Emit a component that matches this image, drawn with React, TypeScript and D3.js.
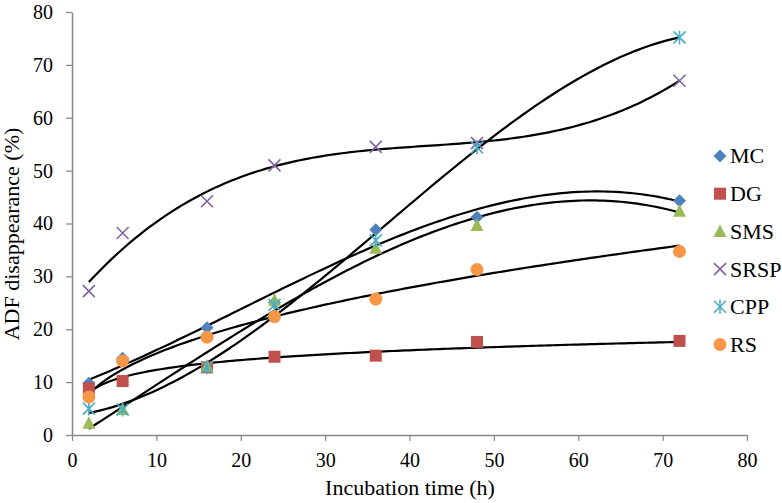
import * as d3 from 'd3';
import { useEffect, useRef } from 'react';

// incubation times (h)
const hours = [2, 6, 16, 24, 36, 48, 72];

// ADF disappearance (%) per substrate
const mc = [9.8, 14.5, 20.3, 25.0, 38.8, 41.2, 44.3];
const dg = [8.8, 10.2, 12.8, 14.8, 15.0, 17.6, 17.8];
const sms = [2.2, 4.8, 13.0, 25.5, 35.3, 39.6, 42.3];
const srsp = [27.2, 38.2, 44.2, 51.0, 54.5, 55.2, 67.0];
const cpp = [5.0, 4.8, 12.8, 24.6, 36.8, 54.4, 75.2];
const rs = [7.2, 14.0, 18.5, 22.4, 25.7, 31.3, 34.7];

const xTicks = [0, 10, 20, 30, 40, 50, 60, 70, 80];
const yTicks = [0, 10, 20, 30, 40, 50, 60, 70, 80];

type Fit = 'poly2' | 'poly3' | 'log' | 'power';

interface Series {
  name: string;
  values: number[];
  color: string;
  symbol: string;
  fit: Fit;
}

const series: Series[] = [
  { name: 'MC', values: mc, color: '#4F81BD', symbol: 'diamond', fit: 'poly3' },
  { name: 'DG', values: dg, color: '#C0504D', symbol: 'square', fit: 'log' },
  { name: 'SMS', values: sms, color: '#9BBB59', symbol: 'triangle', fit: 'poly3' },
  { name: 'SRSP', values: srsp, color: '#8064A2', symbol: 'x', fit: 'poly3' },
  { name: 'CPP', values: cpp, color: '#4BACC6', symbol: 'star', fit: 'poly3' },
  { name: 'RS', values: rs, color: '#F79646', symbol: 'circle', fit: 'power' },
];

// least squares polynomial, returns coefficients c0..cd
function polyfit(xs: number[], ys: number[], deg: number): number[] {
  const n = deg + 1;
  const A: number[][] = [];
  for (let i = 0; i < n; i++) {
    const row: number[] = [];
    for (let j = 0; j < n; j++) {
      row.push(d3.sum(xs, (x) => Math.pow(x, i + j)));
    }
    row.push(d3.sum(xs, (x, k) => Math.pow(x, i) * ys[k]));
    A.push(row);
  }
  for (let i = 0; i < n; i++) {
    let p = i;
    for (let r = i + 1; r < n; r++) if (Math.abs(A[r][i]) > Math.abs(A[p][i])) p = r;
    [A[i], A[p]] = [A[p], A[i]];
    for (let r = 0; r < n; r++) {
      if (r === i) continue;
      const f = A[r][i] / A[i][i];
      for (let c = i; c <= n; c++) A[r][c] -= f * A[i][c];
    }
  }
  return A.map((row, i) => row[n] / row[i]);
}

function trend(fit: Fit, ys: number[]): (x: number) => number {
  if (fit === 'log') {
    const c = polyfit(hours.map(Math.log), ys, 1);
    return (x) => c[0] + c[1] * Math.log(x);
  }
  if (fit === 'power') {
    const c = polyfit(hours.map(Math.log), ys.map(Math.log), 1);
    return (x) => Math.exp(c[0]) * Math.pow(x, c[1]);
  }
  const c = polyfit(hours, ys, fit === 'poly2' ? 2 : 3);
  return (x) => c.reduce((s, ci, i) => s + ci * Math.pow(x, i), 0);
}

function drawSymbol(
  g: d3.Selection<SVGGElement, unknown, null, undefined>,
  symbol: string,
  cx: number,
  cy: number,
  color: string,
) {
  if (symbol === 'diamond') {
    g.append('path')
      .attr('d', `M${cx},${cy - 6.5}L${cx + 6.5},${cy}L${cx},${cy + 6.5}L${cx - 6.5},${cy}Z`)
      .attr('fill', color);
  } else if (symbol === 'square') {
    g.append('rect')
      .attr('x', cx - 6)
      .attr('y', cy - 6)
      .attr('width', 12)
      .attr('height', 12)
      .attr('fill', color);
  } else if (symbol === 'triangle') {
    g.append('path')
      .attr('d', `M${cx},${cy - 7}L${cx + 6.5},${cy + 5.5}L${cx - 6.5},${cy + 5.5}Z`)
      .attr('fill', color);
  } else if (symbol === 'circle') {
    g.append('circle').attr('cx', cx).attr('cy', cy).attr('r', 6.5).attr('fill', color);
  } else if (symbol === 'x') {
    g.append('path')
      .attr('d', `M${cx - 6},${cy - 6}L${cx + 6},${cy + 6}M${cx - 6},${cy + 6}L${cx + 6},${cy - 6}`)
      .attr('stroke', color)
      .attr('stroke-width', 1.6);
  } else {
    g.append('path')
      .attr(
        'd',
        `M${cx - 6},${cy - 6}L${cx + 6},${cy + 6}M${cx - 6},${cy + 6}L${cx + 6},${cy - 6}M${cx},${cy - 7}L${cx},${cy + 7}`,
      )
      .attr('stroke', color)
      .attr('stroke-width', 1.6);
  }
}

const FONT = "'Liberation Serif', 'DejaVu Serif', 'Times New Roman', serif";

export default function App() {
  const svgRef = useRef<SVGSVGElement>(null);

  useEffect(() => {
    if (!svgRef.current) return;
    const svg = d3.select(svgRef.current);
    svg.selectAll('*').remove();

    const x = d3.scaleLinear().domain([0, 80]).range([72, 747]);
    const y = d3.scaleLinear().domain([0, 80]).range([435, 12]);
    const axisColor = '#868686';

    // axes
    const xAxis = svg
      .append('g')
      .attr('transform', `translate(0,${y(0)})`)
      .call(d3.axisBottom(x).tickValues(xTicks).tickSize(6).tickSizeOuter(0).tickPadding(12));
    const yAxis = svg
      .append('g')
      .attr('transform', `translate(${x(0)},0)`)
      .call(d3.axisLeft(y).tickValues(yTicks).tickSize(6).tickSizeOuter(0).tickPadding(13));
    [xAxis, yAxis].forEach((a) => {
      a.attr('font-family', null).attr('font-size', null);
      a.select('.domain').attr('stroke', axisColor).attr('stroke-width', 1.5);
      a.selectAll('.tick line').attr('stroke', axisColor).attr('stroke-width', 1.2);
      a.selectAll('.tick text').attr('fill', '#000').style('font-size', '20px');
    });

    // trend lines
    const samples = d3.range(2, 72.01, 0.5);
    const lines = svg.append('g');
    series.forEach((s) => {
      const f = trend(s.fit, s.values);
      const line = d3
        .line<number>()
        .x((t) => x(t))
        .y((t) => y(f(t)));
      lines
        .append('path')
        .datum(samples)
        .attr('fill', 'none')
        .attr('stroke', '#000')
        .attr('stroke-width', 2.2)
        .attr('d', line);
    });

    // markers
    const marks = svg.append('g');
    series.forEach((s) => {
      s.values.forEach((v, i) => drawSymbol(marks, s.symbol, x(hours[i]), y(v), s.color));
    });

    // legend
    const legend = svg.append('g').style('font-size', '22px');
    series.forEach((s, i) => {
      const ly = 156 + i * 37.7;
      drawSymbol(legend, s.symbol, 720, ly, s.color);
      legend
        .append('text')
        .attr('x', 730)
        .attr('y', ly)
        .attr('dy', '0.34em')
        .text(s.name);
    });

    // titles
    svg
      .append('text')
      .attr('x', 410)
      .attr('y', 495)
      .attr('text-anchor', 'middle')
      .style('font-size', '22px')
      .text('Incubation time (h)');
    svg
      .append('text')
      .attr('transform', 'translate(19,234) rotate(-90)')
      .attr('text-anchor', 'middle')
      .style('font-size', '22px')
      .text('ADF disappearance (%)');
  }, []);

  return (
    <div style={{ position: 'absolute', left: 0, top: 0 }}>
      <svg
        ref={svgRef}
        width={782}
        height={503}
        style={{ display: 'block', background: '#fff', fontFamily: FONT }}
      />
    </div>
  );
}
